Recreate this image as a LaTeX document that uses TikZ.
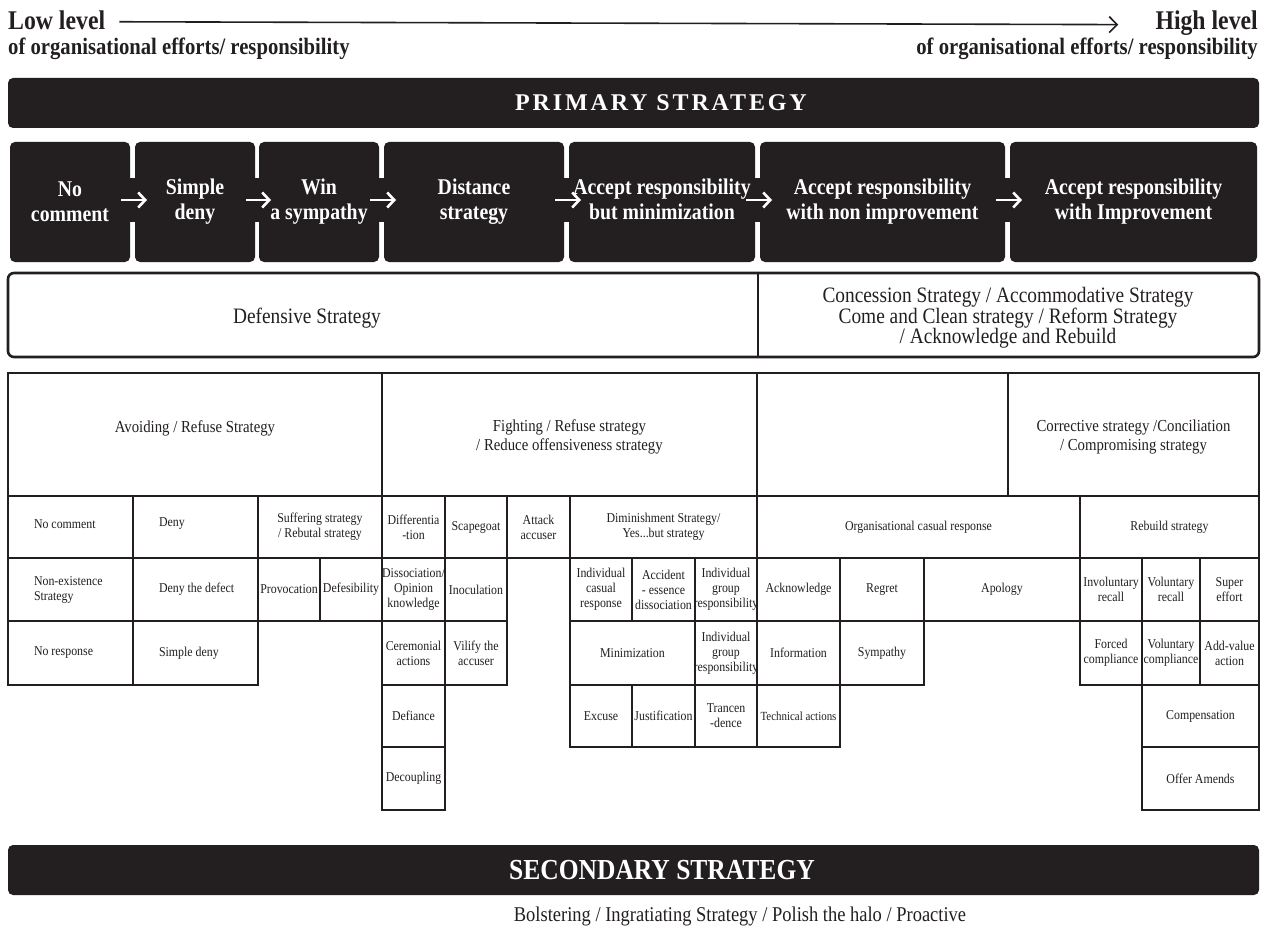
\documentclass[tikz,border=0pt]{standalone}
\usepackage{fontspec}
\setmainfont{Liberation Serif}
\newfontfamily\cond[FakeStretch=0.88]{Liberation Serif}
\newfontfamily\spaced[LetterSpace=12]{Liberation Serif}
\usetikzlibrary{arrows.meta}
\definecolor{ink}{RGB}{35,31,32}

\newcommand\tc[6]{\draw[cellline] (#2,#3) rectangle (#4,#5);
  \node[celltext] (#1) at ({(#2+#4)/2},{(#3+#5)/2}) {#6};}
\newcommand\tcl[6]{\draw[cellline] (#2,#3) rectangle (#4,#5);
  \node[celltext, anchor=west, align=left] (#1) at ({#2+26},{(#3+#5)/2}) {#6};}
\newcommand\bb[4]{\node[bbox,minimum width={#3-#2}] (#1) at ({(#2+#3)/2},202) {#4};}

\begin{document}
\begin{tikzpicture}[x=1pt,y=-1pt,
  cellline/.style={draw=ink, line width=1.4pt},
  celltext/.style={align=center, inner sep=0pt, outer sep=0pt, text=ink,
               font=\cond\fontsize{13.5}{15}\selectfont},
  htext/.style={celltext, font=\cond\fontsize{16.8}{18.5}\selectfont},
  bbox/.style={fill=ink, rounded corners=5pt, minimum height=120pt, inner sep=0pt, outer sep=0pt,
               text=white, align=center, font=\cond\bfseries\fontsize{22.5}{25}\selectfont},
  warr/.style={white, line width=2.6pt, -{Straight Barb[length=7pt,width=15pt,line width=2.6pt]}},
  bridge/.style={fill=ink},
  toptext/.style={inner sep=0pt, text=ink, font=\cond\bfseries\fontsize{27}{30}\selectfont},
  subtext/.style={inner sep=0pt, text=ink, font=\cond\bfseries\fontsize{23.5}{26}\selectfont},
  midtext/.style={inner sep=0pt, text=ink, align=center, font=\cond\fontsize{22}{20.5}\selectfont}
]
\useasboundingbox (0,0) rectangle (1268,928);
\clip (0,0) rectangle (1268,928);
\fill[white] (0,0) rectangle (1268,928);

% top scale
\node[toptext, anchor=base west] (low) at (8,30) {Low level};
\node[subtext, anchor=base west] (lowsub) at (8,55) {of organisational efforts/ responsibility};
\node[toptext, anchor=base east] (high) at (1258,30) {High level};
\node[subtext, anchor=base east] (highsub) at (1258,55) {of organisational efforts/ responsibility};
\draw[ink, line width=1.6pt, -{Straight Barb[length=8pt,width=16pt,line width=1.6pt]}]
  ([xshift=14pt,yshift=-1pt]low.east) -- ([xshift=-37pt,yshift=-1pt]high.west);

% primary bar
\fill[ink, rounded corners=5pt] (8,78) rectangle (1259,128);
\node[white, inner sep=0pt, font=\spaced\bfseries\fontsize{24}{26}\selectfont] (prim) at (661,103) {PRIMARY STRATEGY};

% black boxes
\bb{b1}{10}{130}{No\\comment}
\bb{b2}{135}{255}{Simple\\deny}
\bb{b3}{259}{379}{Win\\a sympathy}
\bb{b4}{384}{564}{Distance\\strategy}
\bb{b5}{569}{755}{\raisebox{2pt}{\begin{tabular}{@{}c@{}}Accept responsibility\\but minimization\end{tabular}}}
\bb{b6}{760}{1005}{\raisebox{5pt}{\begin{tabular}{@{}c@{}}Accept responsibility\\with non improvement\end{tabular}}}
\bb{b7}{1010}{1257}{\raisebox{10pt}{\begin{tabular}{@{}c@{}}Accept responsibility\\with Improvement\end{tabular}}}
\foreach \a/\b in {b1/b2,b2/b3,b3/b4,b4/b5,b5/b6,b6/b7}{
  \fill[bridge] ([yshift=24pt]\a.east) rectangle ([yshift=-20pt]\b.west);
  \draw[warr] ([shift={(-9pt,2pt)}]\a.east) -- ([shift={(12pt,2pt)}]\b.west);
}

% defensive / concession
\draw[ink, line width=2.6pt, rounded corners=6pt] (8,273) rectangle (1259,357);
\draw[ink, line width=2pt] (758,273) -- (758,357);
\node[midtext] (def) at (307,318) {Defensive Strategy};
\node[midtext] (conc) at (1008,318) {Concession Strategy / Accommodative Strategy\\Come and Clean strategy / Reform Strategy\\/ Acknowledge and Rebuild};

% table header row
\draw[cellline] (8,373) rectangle (382,496);
\node[htext] (h1) at (195,428) {Avoiding / Refuse Strategy};
\draw[cellline] (382,373) rectangle (757,496);
\node[htext] (h2) at (569.5,437) {Fighting / Refuse strategy\\/ Reduce offensiveness strategy};
\draw[cellline] (757,373) rectangle (1008,496);
\draw[cellline] (1008,373) rectangle (1259,496);
\node[htext] (h4) at (1133.5,437) {Corrective strategy /Conciliation\\/ Compromising strategy};

% row 1
\draw[cellline] (8,496) rectangle (133,558);
\node[celltext, anchor=west] (a1) at (34,524) {No comment};
\draw[cellline] (133,496) rectangle (258,558);
\node[celltext, anchor=west] (a2) at (159,524) {Deny};
\tc{a3}{258}{496}{382}{558}{Suffering strategy\\/ Rebutal strategy}
\tc{a4}{382}{496}{445}{558}{Differentia\\-tion}
\tc{a5}{445}{496}{507}{558}{Scapegoat}
\tc{a6}{507}{496}{570}{558}{Attack\\accuser}
\tc{a7}{570}{496}{757}{558}{Diminishment Strategy/\\Yes...but strategy}
\tc{a8}{757}{496}{1080}{558}{Organisational casual response}
\tc{a9}{1080}{496}{1259}{558}{Rebuild strategy}

% row 2
\tcl{r1}{8}{558}{133}{621}{Non-existence\\Strategy}
\tcl{r2}{133}{558}{258}{621}{Deny the defect}
\tc{r3}{258}{558}{320}{621}{Provocation}
\tc{r4}{320}{558}{382}{621}{Defesibility}
\tc{r5}{382}{558}{445}{621}{Dissociation/\\Opinion\\knowledge}
\tc{r6}{445}{558}{507}{621}{Inoculation}
\tc{r7}{570}{558}{632}{621}{Individual\\casual\\response}
\tc{r8}{632}{558}{695}{621}{Accident\\- essence\\dissociation}
\tc{r9}{695}{558}{757}{621}{Individual\\group\\responsibility}
\tc{r10}{757}{558}{840}{621}{Acknowledge}
\tc{r11}{840}{558}{924}{621}{Regret}
\tc{r12}{924}{558}{1080}{621}{Apology}
\tc{r13}{1080}{558}{1142}{621}{Involuntary\\recall}
\tc{r14}{1142}{558}{1200}{621}{Voluntary\\recall}
\tc{r15}{1200}{558}{1259}{621}{Super\\effort}

% row 3
\tcl{c1}{8}{621}{133}{685}{No response}
\tcl{c2}{133}{621}{258}{685}{Simple deny}
\tc{c3}{382}{621}{445}{685}{Ceremonial\\actions}
\tc{c4}{445}{621}{507}{685}{Vilify the\\accuser}
\tc{c5}{570}{621}{695}{685}{Minimization}
\tc{c6}{695}{621}{757}{685}{Individual\\group\\responsibility}
\tc{c7}{757}{621}{840}{685}{Information}
\tc{c8}{840}{621}{924}{685}{Sympathy}
\tc{c9}{1080}{621}{1142}{685}{Forced\\compliance}
\tc{c10}{1142}{621}{1200}{685}{Voluntary\\compliance}
\tc{c11}{1200}{621}{1259}{685}{Add-value\\action}

% row 4
\tc{d1}{382}{685}{445}{747}{Defiance}
\tc{d2}{570}{685}{632}{747}{Excuse}
\tc{d3}{632}{685}{695}{747}{Justification}
\tc{d4}{695}{685}{757}{747}{Trancen\\-dence}
\tc{d5}{757}{685}{840}{747}{{\fontsize{12.4}{14}\selectfont Technical actions}}
\tc{d6}{1142}{685}{1259}{747}{Compensation}

% row 5
\tc{e1}{382}{747}{445}{810}{Decoupling}
\tc{e2}{1142}{747}{1259}{810}{Offer Amends}

% secondary bar
\fill[ink, rounded corners=5pt] (8,845) rectangle (1259,895);
\node[white, inner sep=0pt, font=\cond\bfseries\fontsize{29}{31}\selectfont] (sec) at (662,870) {SECONDARY STRATEGY};
\node[inner sep=0pt, anchor=base, text=ink, font=\cond\fontsize{21}{23}\selectfont] (bols) at (740,921) {Bolstering / Ingratiating Strategy / Polish the halo / Proactive};
\end{tikzpicture}
\end{document}
